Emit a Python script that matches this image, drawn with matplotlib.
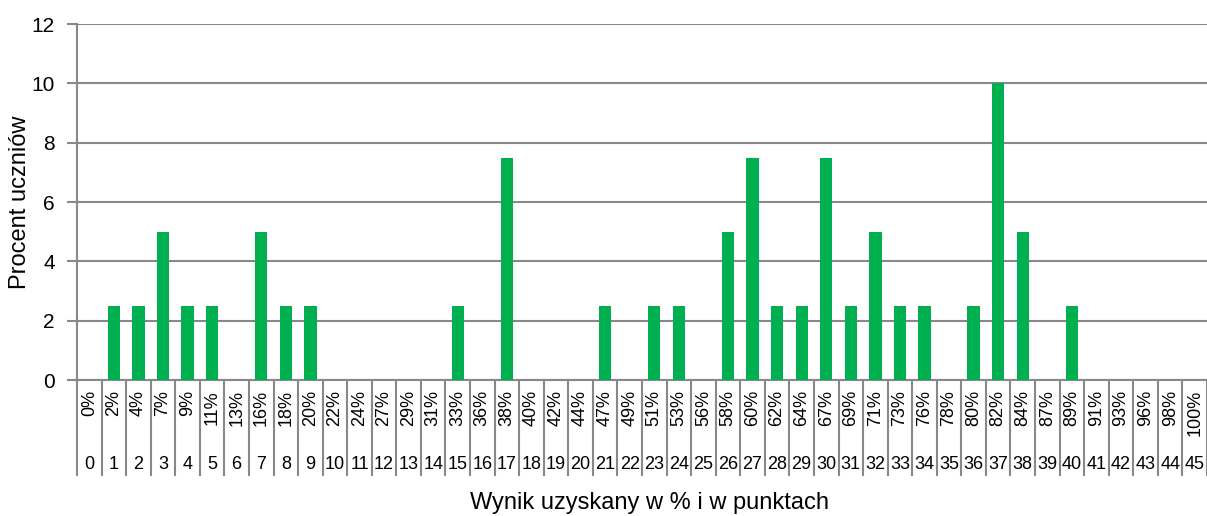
import matplotlib.pyplot as plt
import matplotlib.transforms as mtransforms

plt.rcParams['font.family'] = ['Liberation Sans', 'DejaVu Sans']

# wynik w punktach (0-45) i w procentach
punkty = list(range(46))
procenty = ['0%', '2%', '4%', '7%', '9%', '11%', '13%', '16%', '18%', '20%',
            '22%', '24%', '27%', '29%', '31%', '33%', '36%', '38%', '40%', '42%',
            '44%', '47%', '49%', '51%', '53%', '56%', '58%', '60%', '62%', '64%',
            '67%', '69%', '71%', '73%', '76%', '78%', '80%', '82%', '84%', '87%',
            '89%', '91%', '93%', '96%', '98%', '100%']
# procent uczniow
uczniowie = [0, 2.5, 2.5, 5, 2.5, 2.5, 0, 5, 2.5, 2.5,
             0, 0, 0, 0, 0, 2.5, 0, 7.5, 0, 0,
             0, 2.5, 0, 2.5, 2.5, 0, 5, 7.5, 2.5, 2.5,
             7.5, 2.5, 5, 2.5, 2.5, 0, 2.5, 10, 5, 0,
             2.5, 0, 0, 0, 0, 0]

grey = '#888888'

fig = plt.figure(figsize=(12.07, 5.16), dpi=100)
ax = fig.add_axes([77 / 1207, 1 - 380 / 516, 1130 / 1207, 356 / 516])

ax.bar(punkty, uczniowie, width=0.5, color='#00B050', zorder=3)

ax.set_xlim(-0.5, len(punkty) - 0.5)
ax.set_ylim(0, 12)
ax.set_yticks(range(0, 13, 2))
ax.tick_params(axis='y', labelsize=15, length=7, width=1.5, color=grey, pad=9)
ax.set_xticks([])
ax.yaxis.grid(True, color=grey, linewidth=1.5, zorder=0)

for s in ['top', 'right']:
    ax.spines[s].set_visible(False)
ax.spines['left'].set_color(grey)
ax.spines['left'].set_linewidth(1.5)
ax.spines['bottom'].set_color(grey)
ax.spines['bottom'].set_linewidth(1.5)

trans = mtransforms.blended_transform_factory(ax.transData, ax.transAxes)

# separatory kategorii (dwupoziomowa os)
for i in range(len(punkty) + 1):
    x = i - 0.5
    ax.plot([x, x], [0, -0.167], transform=trans, color=grey, lw=1.5, clip_on=False)
    ax.plot([x, x], [-0.172, -0.267], transform=trans, color=grey, lw=1.5, clip_on=False)

for p, lab in zip(punkty, procenty):
    ax.text(p, -0.028, lab, transform=trans, rotation=90, ha='center', va='top',
            fontsize=13)
    ax.text(p, -0.236, str(p), transform=trans, ha='center', va='center',
            fontsize=13)

fig.text(20 / 1207, 1 - 202 / 516, 'Procent uczniów', rotation=90,
         ha='center', va='center', fontsize=17)
fig.text(650 / 1207, 1 - 503 / 516, 'Wynik uzyskany w % i w punktach',
         ha='center', va='center', fontsize=17)

fig.savefig('out.png', dpi=100)
